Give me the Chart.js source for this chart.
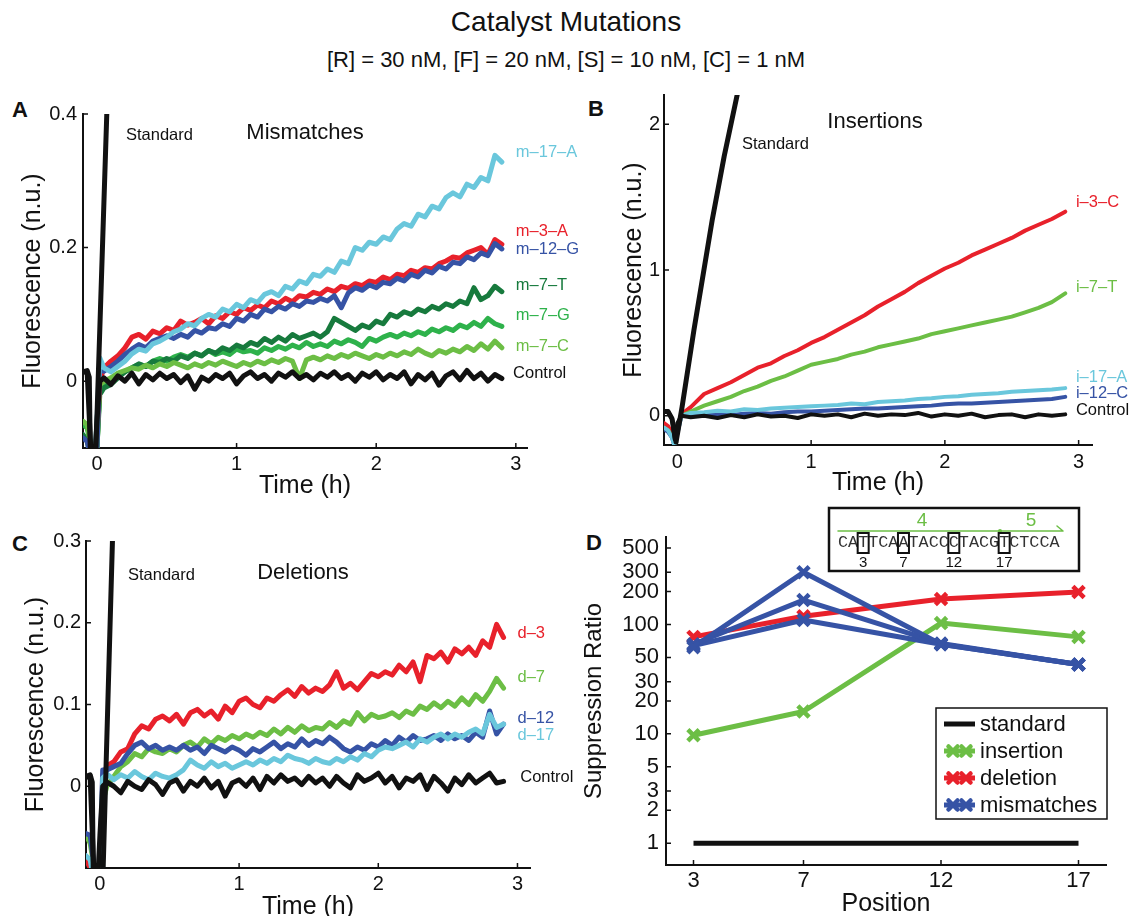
<!DOCTYPE html>
<html>
<head>
<meta charset="utf-8">
<script src="https://cdn.jsdelivr.net/npm/chart.js@4.4.1/dist/chart.umd.min.js"></script>
<style>
  html, body { margin: 0; padding: 0; background: #fff; overflow: hidden; }
  body { width: 1131px; height: 916px; position: relative; font-family: "Liberation Sans", Arial, Helvetica, sans-serif; color: #111; }
  canvas { position: absolute; left: 0; top: 0; }
  .t { position: absolute; white-space: nowrap; transform: translate(-50%, -50%); }
  .panel { position: absolute; font-weight: bold; font-size: 22px; transform: translate(-50%, -50%); }
</style>
</head>
<body>
<div class="t" style="left:566px;top:22px;font-size:28px">Catalyst Mutations</div>
<div class="t" style="left:566px;top:60px;font-size:22px">[R] = 30 nM, [F] = 20 nM, [S] = 10 nM, [C] = 1 nM</div>
<div class="panel" style="left:20px;top:110px">A</div>
<div class="panel" style="left:596px;top:109px">B</div>
<div class="panel" style="left:20px;top:544px">C</div>
<div class="panel" style="left:594px;top:543px">D</div>

<canvas id="chartA" width="1131" height="930"></canvas>
<canvas id="chartB" width="1131" height="930"></canvas>
<canvas id="chartC" width="1131" height="930"></canvas>
<canvas id="chartD" width="1131" height="930"></canvas>

<script>
// ---- time grids (hours) ----
const hoursAC = [
  -0.1, -0.07, -0.04, -0.02, 0, 0.02, 0.05,
  0.1, 0.15, 0.2, 0.25, 0.3, 0.35, 0.4, 0.45, 0.5, 0.55,
  0.6, 0.65, 0.7, 0.75, 0.8, 0.85, 0.9, 0.95, 1.0, 1.05,
  1.1, 1.15, 1.2, 1.25, 1.3, 1.35, 1.4, 1.45, 1.5, 1.55,
  1.6, 1.65, 1.7, 1.75, 1.8, 1.85, 1.9, 1.95, 2.0, 2.05,
  2.1, 2.15, 2.2, 2.25, 2.3, 2.35, 2.4, 2.45, 2.5, 2.55,
  2.6, 2.65, 2.7, 2.75, 2.8, 2.85, 2.9
];
const hoursB = [
  -0.1, -0.07, -0.04, -0.02, 0, 0.03,
  0.1, 0.2, 0.3, 0.4, 0.5, 0.6, 0.7, 0.8, 0.9, 1.0,
  1.1, 1.2, 1.3, 1.4, 1.5, 1.6, 1.7, 1.8, 1.9, 2.0,
  2.1, 2.2, 2.3, 2.4, 2.5, 2.6, 2.7, 2.8, 2.9
];

// ---- A: mismatches ----
const stdHoursA = [-0.1, -0.07, -0.055, -0.045, -0.015, 0.075];
const stdA = [0.014, 0.016, 0.006, -0.15, -0.15, 0.43];
const mis17A = [
  -0.12, -0.12, -0.13, -0.13, -0.06, 0.035, 0.02,
  0.014, 0.022, 0.030, 0.041, 0.048, 0.045, 0.056, 0.060, 0.066, 0.074,
  0.078, 0.086, 0.083, 0.094, 0.100, 0.096, 0.108, 0.104, 0.115, 0.110,
  0.122, 0.118, 0.130, 0.134, 0.128, 0.142, 0.138, 0.150, 0.146, 0.160,
  0.157, 0.168, 0.163, 0.180, 0.176, 0.200, 0.196, 0.208, 0.205, 0.216,
  0.212, 0.228, 0.236, 0.232, 0.250, 0.246, 0.262, 0.258, 0.275, 0.282,
  0.276, 0.295, 0.290, 0.305, 0.300, 0.338, 0.328
];
const mis3A = [
  -0.11, -0.12, -0.13, -0.13, -0.08, 0.0, 0.02,
  0.030, 0.038, 0.050, 0.066, 0.070, 0.063, 0.075, 0.071, 0.080, 0.076,
  0.090, 0.084, 0.088, 0.094, 0.086, 0.098, 0.094, 0.104, 0.100, 0.110,
  0.106, 0.114, 0.110, 0.120, 0.116, 0.124, 0.119, 0.128, 0.126, 0.133,
  0.130, 0.138, 0.134, 0.142, 0.139, 0.146, 0.143, 0.150, 0.148, 0.156,
  0.152, 0.160, 0.158, 0.166, 0.163, 0.170, 0.168, 0.176, 0.180, 0.186,
  0.184, 0.192, 0.196, 0.200, 0.190, 0.212, 0.205
];
const mis12G = [
  -0.085, -0.09, -0.12, -0.13, -0.1, 0.02, 0.015,
  0.022, 0.030, 0.040, 0.048, 0.055, 0.050, 0.060, 0.064, 0.068, 0.064,
  0.070, 0.066, 0.076, 0.072, 0.080, 0.078, 0.086, 0.082, 0.094, 0.090,
  0.100, 0.096, 0.108, 0.104, 0.112, 0.108, 0.116, 0.112, 0.120, 0.118,
  0.124, 0.120, 0.128, 0.110, 0.132, 0.140, 0.136, 0.144, 0.140, 0.148,
  0.146, 0.154, 0.150, 0.160, 0.156, 0.166, 0.162, 0.172, 0.168, 0.178,
  0.176, 0.186, 0.182, 0.192, 0.188, 0.206, 0.198
];
const mis7T = [
  -0.08, -0.09, -0.12, -0.13, -0.1, -0.02, -0.01,
  -0.005, 0.005, 0.014, 0.020, 0.026, 0.022, 0.030, 0.028, 0.034, 0.030,
  0.038, 0.034, 0.042, 0.038, 0.046, 0.042, 0.050, 0.046, 0.054, 0.050,
  0.058, 0.054, 0.064, 0.058, 0.066, 0.060, 0.070, 0.064, 0.068, 0.072,
  0.066, 0.074, 0.094, 0.088, 0.082, 0.076, 0.084, 0.080, 0.090, 0.086,
  0.100, 0.096, 0.104, 0.100, 0.108, 0.104, 0.112, 0.108, 0.116, 0.112,
  0.120, 0.116, 0.140, 0.122, 0.128, 0.142, 0.134
];
const mis7G = [
  -0.065, -0.07, -0.1, -0.12, -0.1, -0.01, -0.005,
  0.000, 0.008, 0.014, 0.020, 0.025, 0.022, 0.030, 0.034, 0.030, 0.036,
  0.040, 0.036, 0.042, 0.038, 0.046, 0.040, 0.044, 0.040, 0.048, 0.044,
  0.046, 0.042, 0.050, 0.046, 0.052, 0.048, 0.054, 0.050, 0.058, 0.052,
  0.056, 0.052, 0.060, 0.056, 0.062, 0.058, 0.052, 0.064, 0.060, 0.066,
  0.070, 0.066, 0.072, 0.068, 0.074, 0.070, 0.078, 0.074, 0.080, 0.076,
  0.084, 0.080, 0.088, 0.082, 0.094, 0.086, 0.082
];
const mis7C = [
  -0.06, -0.065, -0.1, -0.12, -0.1, -0.005, 0.0,
  0.005, 0.012, 0.016, 0.020, 0.018, 0.024, 0.020, 0.026, 0.022, 0.028,
  0.024, 0.020, 0.026, 0.022, 0.028, 0.024, 0.030, 0.026, 0.022, 0.028,
  0.024, 0.030, 0.026, 0.032, 0.028, 0.034, 0.030, 0.004, 0.032, 0.036,
  0.032, 0.038, 0.034, 0.040, 0.036, 0.042, 0.038, 0.034, 0.040, 0.036,
  0.042, 0.038, 0.044, 0.040, 0.048, 0.042, 0.038, 0.046, 0.042, 0.048,
  0.044, 0.052, 0.046, 0.056, 0.048, 0.060, 0.050
];
const ctrlA = [
  0.015, 0.012, -0.12, -0.13, -0.06, 0.0, 0.005,
  -0.005, 0.008, 0.000, 0.012, -0.004, 0.010, 0.002, 0.012, 0.004, 0.010,
  -0.002, 0.008, -0.012, 0.006, 0.000, 0.010, 0.004, 0.012, -0.004, 0.008,
  0.014, 0.004, 0.010, 0.000, 0.012, 0.006, 0.014, 0.004, 0.010, 0.002,
  0.012, 0.006, 0.014, 0.004, 0.010, 0.000, 0.012, 0.006, 0.014, 0.002,
  0.010, 0.004, 0.014, -0.004, 0.010, 0.002, 0.012, -0.006, 0.008, 0.014,
  0.002, 0.016, 0.004, 0.012, 0.000, 0.010, 0.004
];
const tagNamesA = ['m–17–A', 'm–3–A', 'm–12–G', 'm–7–T', 'm–7–G', 'm–7–C', 'Control'];
const tagLevelsA = [0.342, 0.224, 0.197, 0.143, 0.098, 0.052, 0.011];

// ---- B: insertions ----
const stdHoursB = [-0.1, -0.07, -0.04, -0.01, 0.035, 0.124, 0.26, 0.35, 0.47];
const stdB = [0.03, 0.03, -0.02, -0.18, 0.06, 0.59, 1.34, 1.78, 2.3];
const ins3C = [
  -0.05, -0.07, -0.12, -0.2, -0.1, 0.01,
  0.06, 0.15, 0.19, 0.23, 0.28, 0.33, 0.36, 0.41, 0.45, 0.50,
  0.54, 0.59, 0.64, 0.69, 0.75, 0.80, 0.85, 0.91, 0.96, 1.01,
  1.05, 1.10, 1.14, 1.18, 1.22, 1.27, 1.31, 1.35, 1.40
];
const ins7T = [
  -0.08, -0.1, -0.14, -0.2, -0.1, 0.0,
  0.03, 0.07, 0.10, 0.13, 0.17, 0.20, 0.24, 0.27, 0.31, 0.35,
  0.37, 0.39, 0.42, 0.44, 0.47, 0.49, 0.51, 0.53, 0.56, 0.58,
  0.60, 0.62, 0.64, 0.66, 0.68, 0.71, 0.74, 0.78, 0.84
];
const ins17A = [
  -0.08, -0.1, -0.15, -0.21, -0.12, 0.0,
  0.02, 0.025, 0.035, 0.03, 0.045, 0.04, 0.05, 0.055, 0.06, 0.065,
  0.07, 0.075, 0.085, 0.08, 0.095, 0.1, 0.105, 0.115, 0.12, 0.13,
  0.135, 0.145, 0.15, 0.155, 0.165, 0.17, 0.175, 0.18, 0.19
];
const ins12C = [
  -0.09, -0.11, -0.15, -0.21, -0.12, 0.0,
  0.0, 0.005, 0.01, 0.005, 0.015, 0.02, 0.015, 0.025, 0.03, 0.03,
  0.035, 0.04, 0.045, 0.05, 0.05, 0.055, 0.06, 0.065, 0.07, 0.08,
  0.085, 0.085, 0.09, 0.095, 0.1, 0.105, 0.11, 0.115, 0.13
];
const ctrlB = [
  0.03, 0.03, -0.02, -0.16, -0.05, 0.0,
  -0.01, 0.0, -0.015, 0.005, -0.01, 0.01, -0.005, 0.0, -0.015, 0.01,
  0.0, 0.01, -0.01, 0.015, 0.0, 0.01, 0.005, 0.02, -0.005, 0.01,
  0.0, 0.015, -0.01, 0.005, 0.01, -0.01, 0.01, 0.0, 0.01
];
const tagNamesB = ['i–3–C', 'i–7–T', 'i–17–A', 'i–12–C', 'Control'];
const tagLevelsB = [1.46, 0.878, 0.26, 0.151, 0.034];

// ---- C: deletions ----
const stdHoursC = [-0.1, -0.07, -0.055, -0.045, 0.02, 0.095];
const stdC = [0.012, 0.014, 0.005, -0.15, -0.12, 0.33];
const del3 = [
  -0.09, -0.1, -0.13, -0.13, -0.1, 0.01, 0.025,
  0.030, 0.042, 0.046, 0.064, 0.074, 0.070, 0.082, 0.086, 0.080, 0.088,
  0.076, 0.090, 0.094, 0.086, 0.092, 0.082, 0.098, 0.090, 0.104, 0.108,
  0.100, 0.096, 0.108, 0.104, 0.112, 0.118, 0.110, 0.122, 0.114, 0.120,
  0.116, 0.124, 0.140, 0.120, 0.126, 0.118, 0.128, 0.138, 0.134, 0.140,
  0.136, 0.148, 0.140, 0.152, 0.128, 0.160, 0.156, 0.164, 0.152, 0.168,
  0.162, 0.170, 0.160, 0.178, 0.170, 0.198, 0.182
];
const del7 = [
  -0.06, -0.07, -0.1, -0.12, -0.1, -0.02, 0.0,
  0.012, 0.024, 0.030, 0.040, 0.036, 0.046, 0.042, 0.040, 0.046, 0.042,
  0.050, 0.054, 0.048, 0.058, 0.052, 0.060, 0.056, 0.062, 0.058, 0.064,
  0.060, 0.066, 0.062, 0.070, 0.064, 0.072, 0.066, 0.074, 0.068, 0.072,
  0.070, 0.078, 0.072, 0.080, 0.076, 0.090, 0.080, 0.088, 0.084, 0.086,
  0.090, 0.084, 0.092, 0.088, 0.098, 0.094, 0.102, 0.096, 0.104, 0.098,
  0.108, 0.100, 0.112, 0.104, 0.116, 0.132, 0.120
];
const del12 = [
  -0.058, -0.06, -0.1, -0.12, -0.1, 0.02, 0.02,
  0.024, 0.028, 0.040, 0.050, 0.054, 0.046, 0.050, 0.044, 0.048, 0.044,
  0.050, 0.044, 0.048, 0.040, 0.050, 0.046, 0.042, 0.048, 0.044, 0.038,
  0.046, 0.042, 0.048, 0.054, 0.046, 0.052, 0.048, 0.058, 0.050, 0.056,
  0.052, 0.060, 0.054, 0.046, 0.042, 0.048, 0.044, 0.052, 0.048, 0.056,
  0.050, 0.060, 0.054, 0.062, 0.056, 0.058, 0.062, 0.056, 0.064, 0.058,
  0.062, 0.056, 0.066, 0.060, 0.092, 0.064, 0.076
];
const del17 = [
  -0.085, -0.09, -0.12, -0.13, -0.1, 0.01, 0.015,
  0.008, 0.014, 0.010, 0.018, 0.012, 0.008, 0.016, 0.012, 0.010, 0.014,
  0.020, 0.032, 0.026, 0.022, 0.030, 0.024, 0.028, 0.022, 0.026, 0.030,
  0.026, 0.032, 0.028, 0.034, 0.030, 0.038, 0.034, 0.032, 0.028, 0.034,
  0.030, 0.028, 0.034, 0.030, 0.036, 0.032, 0.040, 0.036, 0.044, 0.048,
  0.046, 0.050, 0.054, 0.048, 0.058, 0.054, 0.060, 0.064, 0.058, 0.064,
  0.060, 0.066, 0.070, 0.064, 0.088, 0.072, 0.076
];
const ctrlC = [
  0.012, 0.01, -0.12, -0.13, -0.06, 0.0, 0.005,
  0.000, -0.008, 0.006, 0.000, -0.004, 0.008, 0.002, -0.010, 0.004, 0.008,
  -0.006, 0.006, 0.000, 0.010, -0.002, 0.006, -0.012, 0.004, 0.008, 0.000,
  0.010, -0.004, 0.012, 0.004, 0.014, 0.006, 0.010, 0.002, 0.012, 0.004,
  0.010, 0.000, 0.012, 0.004, -0.002, 0.014, 0.006, 0.010, 0.016, 0.004,
  0.012, -0.002, 0.010, 0.006, 0.014, -0.004, 0.012, 0.004, -0.006, 0.010,
  0.002, 0.014, 0.004, 0.010, 0.016, 0.004, 0.006
];
const tagNamesC = ['d–3', 'd–7', 'd–12', 'd–17', 'Control'];
const tagLevelsC = [0.187, 0.133, 0.083, 0.062, 0.011];

// ---- D: suppression ratio ----
const positions = [3, 7, 12, 17];
const standardRatio = [1, 1, 1, 1];
const insertionRatio = [9.7, 16, 103, 77];
const deletionRatio = [77, 119, 171, 198];
const mismatchRatio1 = [62, 300, 66, 43];
const mismatchRatio2 = [66, 167, 67, 43];
const mismatchRatio3 = [64, 110, 66, 43];

// ---- ticks ----
const hourTicks = [0, 1, 2, 3];
const hourTickLabels = ['0', '1', '2', '3'];
const yTicksA = [0, 0.2, 0.4];
const yTickLabelsA = ['0', '0.2', '0.4'];
const yTicksB = [0, 1, 2];
const yTickLabelsB = ['0', '1', '2'];
const yTicksC = [0, 0.1, 0.2, 0.3];
const yTickLabelsC = ['0', '0.1', '0.2', '0.3'];
const posTicks = [3, 7, 12, 17];
const posTickLabels = ['3', '7', '12', '17'];
const ratioTicks = [1, 2, 3, 5, 10, 20, 30, 50, 100, 200, 300, 500];
const ratioTickLabels = ['1', '2', '3', '5', '10', '20', '30', '50', '100', '200', '300', '500'];

// ---- styling ----
const FONT = '"Liberation Sans", Arial, Helvetica, sans-serif';
const ink = '#111111';
const red = '#e8212b';
const blue = '#3653a5';
const cyan = '#6ac7dc';
const darkGreen = '#177a3d';
const green = '#2eb24b';
const lightGreen = '#6cbe45';

Chart.defaults.font.family = FONT;
Chart.defaults.color = ink;

function pts(t, v) {
  return t.map((x, i) => ({ x: x, y: v[i] }));
}

// MATLAB style tick marks pointing into the plot
const innerTicks = {
  id: 'innerTicks',
  afterDraw(chart) {
    const { ctx, chartArea: a, scales: { x, y } } = chart;
    ctx.save();
    ctx.strokeStyle = ink;
    ctx.lineWidth = 1.5;
    ctx.beginPath();
    x.ticks.forEach(t => { const p = x.getPixelForValue(t.value); ctx.moveTo(p, a.bottom); ctx.lineTo(p, a.bottom - 5); });
    y.ticks.forEach(t => { const p = y.getPixelForValue(t.value); ctx.moveTo(a.left, p); ctx.lineTo(a.left + 5, p); });
    ctx.stroke();
    ctx.restore();
  }
};

// labels at the right end of each curve
const endTags = {
  id: 'endTags',
  afterDraw(chart) {
    const { ctx, scales: { x, y } } = chart;
    ctx.save();
    ctx.font = '16.5px ' + FONT;
    ctx.textBaseline = 'middle';
    ctx.textAlign = 'left';
    chart.data.datasets.forEach(ds => {
      if (!ds.tag) return;
      ctx.fillStyle = ds.borderColor;
      ctx.fillText(ds.tag, x.getPixelForValue(ds.tagAt[0]), y.getPixelForValue(ds.tagAt[1]));
    });
    ctx.restore();
  }
};

function notes(items) {
  return {
    id: 'notes',
    afterDraw(chart) {
      const ctx = chart.ctx;
      ctx.save();
      ctx.textBaseline = 'middle';
      items.forEach(n => {
        ctx.font = n.size + 'px ' + FONT;
        ctx.fillStyle = ink;
        ctx.textAlign = n.align;
        ctx.fillText(n.text, n.x, n.y);
      });
      ctx.restore();
    }
  };
}

function curve(t, v, color, width, tag, tagAt) {
  return { data: pts(t, v), borderColor: color, borderWidth: width, tag: tag, tagAt: tagAt, clip: 0 };
}

function timeChart(id, box, yRange, yTicks, yLabels, sets, extra) {
  return new Chart(document.getElementById(id), {
    type: 'line',
    data: { datasets: sets },
    options: {
      responsive: false,
      devicePixelRatio: 1,
      animation: false,
      events: [],
      layout: { padding: { left: box.pl, right: box.pr, top: box.pt, bottom: box.pb } },
      plugins: { legend: { display: false }, tooltip: { enabled: false } },
      elements: {
        point: { radius: 0 },
        line: { tension: 0, borderJoinStyle: 'round', borderCapStyle: 'round' }
      },
      scales: {
        x: {
          type: 'linear', bounds: 'data', min: box.xMin, max: box.xMax,
          grid: { display: false, drawTicks: false },
          border: { color: ink, width: 2 },
          afterFit: s => { s.height = box.xh; },
          afterBuildTicks: s => { s.ticks = hourTicks.map(v => ({ value: v })); },
          ticks: { padding: box.xp, autoSkip: false, maxRotation: 0, font: { size: 20 }, color: ink,
                   callback: (v, i) => hourTickLabels[i] },
          title: { display: true, text: 'Time (h)', font: { size: 25, lineHeight: 1 }, padding: 0, color: ink }
        },
        y: {
          type: 'linear', bounds: 'data', min: yRange[0], max: yRange[1],
          grid: { display: false, drawTicks: false },
          border: { color: ink, width: 2 },
          afterFit: s => { s.width = box.yw; },
          afterBuildTicks: s => { s.ticks = yTicks.map(v => ({ value: v })); },
          ticks: { padding: box.yp, autoSkip: false, font: { size: 20 }, color: ink,
                   callback: (v, i) => yLabels[i] },
          title: { display: true, text: 'Fluorescence (n.u.)', font: { size: 25, lineHeight: 1 }, padding: 0, color: ink }
        }
      }
    },
    plugins: [innerTicks, endTags, extra]
  });
}

// Panel A
timeChart('chartA',
  { pl: 20.5, pr: 604, pt: 114, pb: 431.5, yw: 62.5, xh: 50.5, xp: 4, yp: 6, xMin: -0.1, xMax: 3.08 },
  [-0.1, 0.4], yTicksA, yTickLabelsA,
  [
    curve(stdHoursA, stdA, ink, 5),
    curve(hoursAC, ctrlA, ink, 5, tagNamesA[6], [2.98, tagLevelsA[6]]),
    curve(hoursAC, mis17A, cyan, 5, tagNamesA[0], [3.0, tagLevelsA[0]]),
    curve(hoursAC, mis12G, blue, 5, tagNamesA[2], [3.0, tagLevelsA[2]]),
    curve(hoursAC, mis3A, red, 5, tagNamesA[1], [3.0, tagLevelsA[1]]),
    curve(hoursAC, mis7C, lightGreen, 5, tagNamesA[5], [3.0, tagLevelsA[5]]),
    curve(hoursAC, mis7T, darkGreen, 5, tagNamesA[3], [3.0, tagLevelsA[3]]),
    curve(hoursAC, mis7G, green, 5, tagNamesA[4], [3.0, tagLevelsA[4]])
  ],
  notes([
    { text: 'Standard', x: 126, y: 135, size: 16.5, align: 'left' },
    { text: 'Mismatches', x: 305, y: 133, size: 22, align: 'center' }
  ])
);

// Panel B
timeChart('chartB',
  { pl: 621.5, pr: 39, pt: 95, pb: 434.5, yw: 42.5, xh: 50.5, xp: 5.5, yp: 4, xMin: -0.1, xMax: 3.1 },
  [-0.2, 2.2], yTicksB, yTickLabelsB,
  [
    curve(stdHoursB, stdB, ink, 5),
    curve(hoursB, ctrlB, ink, 4, tagNamesB[4], [2.98, tagLevelsB[4]]),
    curve(hoursB, ins17A, cyan, 4, tagNamesB[2], [2.98, tagLevelsB[2]]),
    curve(hoursB, ins12C, blue, 4, tagNamesB[3], [2.98, tagLevelsB[3]]),
    curve(hoursB, ins7T, lightGreen, 4, tagNamesB[1], [2.98, tagLevelsB[1]]),
    curve(hoursB, ins3C, red, 4, tagNamesB[0], [2.98, tagLevelsB[0]])
  ],
  notes([
    { text: 'Standard', x: 742, y: 144, size: 16.5, align: 'left' },
    { text: 'Insertions', x: 875, y: 122, size: 22, align: 'center' }
  ])
);

// Panel C
timeChart('chartC',
  { pl: 23.5, pr: 601, pt: 541, pb: 10.5, yw: 62.5, xh: 51.5, xp: 4, yp: 5, xMin: -0.1, xMax: 3.09 },
  [-0.1, 0.3], yTicksC, yTickLabelsC,
  [
    curve(stdHoursC, stdC, ink, 5),
    curve(hoursAC, ctrlC, ink, 5, tagNamesC[4], [3.02, tagLevelsC[4]]),
    curve(hoursAC, del17, cyan, 5, tagNamesC[3], [3.0, tagLevelsC[3]]),
    curve(hoursAC, del12, blue, 5, tagNamesC[2], [3.0, tagLevelsC[2]]),
    curve(hoursAC, del7, lightGreen, 5, tagNamesC[1], [3.0, tagLevelsC[1]]),
    curve(hoursAC, del3, red, 5, tagNamesC[0], [3.0, tagLevelsC[0]])
  ],
  notes([
    { text: 'Standard', x: 128, y: 575, size: 16.5, align: 'left' },
    { text: 'Deletions', x: 303, y: 573, size: 22, align: 'center' }
  ])
);

// Panel D: legend box and sequence inset
const legendRows = [
  { text: 'standard', color: ink, marker: false },
  { text: 'insertion', color: lightGreen, marker: true },
  { text: 'deletion', color: red, marker: true },
  { text: 'mismatches', color: blue, marker: true }
];
const sequence = 'CATTCAATACCCTACGTCTCCA';
const boxedIndex = [2, 6, 11, 16];
const boxedLabels = ['3', '7', '12', '17'];

function drawCross(ctx, cx, cy, r, color) {
  ctx.strokeStyle = color;
  ctx.lineWidth = 4.5;
  ctx.lineCap = 'round';
  ctx.beginPath();
  ctx.moveTo(cx - r, cy - r); ctx.lineTo(cx + r, cy + r);
  ctx.moveTo(cx - r, cy + r); ctx.lineTo(cx + r, cy - r);
  ctx.stroke();
}

const panelDExtras = {
  id: 'panelDExtras',
  afterDraw(chart) {
    const ctx = chart.ctx;
    ctx.save();
    // legend
    ctx.fillStyle = '#fff';
    ctx.fillRect(936, 708, 171, 111);
    ctx.strokeStyle = ink;
    ctx.lineWidth = 1.5;
    ctx.strokeRect(936, 708, 171, 111);
    legendRows.forEach((row, i) => {
      const y = 724 + i * 27;
      ctx.strokeStyle = row.color;
      ctx.lineWidth = 5;
      ctx.lineCap = 'butt';
      ctx.beginPath(); ctx.moveTo(944, y); ctx.lineTo(975, y); ctx.stroke();
      if (row.marker) { drawCross(ctx, 953, y, 4.5, row.color); drawCross(ctx, 966, y, 4.5, row.color); }
      ctx.fillStyle = ink;
      ctx.font = '22px ' + FONT;
      ctx.textAlign = 'left';
      ctx.textBaseline = 'middle';
      ctx.fillText(row.text, 980, y + 1);
    });
    // sequence inset
    ctx.fillStyle = '#fff';
    ctx.fillRect(829, 508, 250, 63);
    ctx.strokeStyle = ink;
    ctx.lineWidth = 2.5;
    ctx.strokeRect(829, 508, 250, 63);
    ctx.strokeStyle = lightGreen;
    ctx.lineWidth = 1.5;
    ctx.beginPath();
    ctx.moveTo(838, 531); ctx.lineTo(1063, 531);
    ctx.moveTo(1057, 526); ctx.lineTo(1063, 531);
    ctx.stroke();
    ctx.fillStyle = lightGreen;
    ctx.beginPath(); ctx.arc(1000, 531, 2, 0, Math.PI * 2); ctx.fill();
    ctx.font = '19px ' + FONT;
    ctx.textAlign = 'center';
    ctx.textBaseline = 'middle';
    ctx.fillText('4', 922, 521);
    ctx.fillText('5', 1031, 521);
    ctx.font = '16.8px "Liberation Mono", "Courier New", monospace';
    ctx.fillStyle = '#333';
    ctx.textAlign = 'left';
    ctx.fillText(sequence, 838, 543);
    const cw = ctx.measureText('C').width;
    ctx.strokeStyle = ink;
    ctx.lineWidth = 2;
    ctx.font = '15px ' + FONT;
    ctx.fillStyle = ink;
    ctx.textAlign = 'center';
    boxedIndex.forEach((k, i) => {
      const cx = 838 + (k + 0.5) * cw;
      ctx.strokeRect(cx - 5.5, 533, 11, 20);
      ctx.fillText(boxedLabels[i], cx, 563);
    });
    ctx.restore();
  }
};

function ratioSet(values, color, marker) {
  return {
    data: pts(positions, values), borderColor: color, backgroundColor: color, borderWidth: 5,
    pointStyle: 'crossRot', pointRadius: marker ? 8 : 0, pointBorderWidth: 4.5,
    pointBorderColor: color, clip: false
  };
}

new Chart(document.getElementById('chartD'), {
  type: 'line',
  data: {
    datasets: [
      ratioSet(mismatchRatio1, blue, true),
      ratioSet(mismatchRatio2, blue, true),
      ratioSet(mismatchRatio3, blue, true),
      ratioSet(deletionRatio, red, true),
      ratioSet(insertionRatio, lightGreen, true),
      ratioSet(standardRatio, ink, false)
    ]
  },
  options: {
    responsive: false,
    devicePixelRatio: 1,
    animation: false,
    events: [],
    layout: { padding: { left: 582, right: 25, top: 537, bottom: 13 } },
    plugins: { legend: { display: false }, tooltip: { enabled: false } },
    elements: { line: { tension: 0, borderJoinStyle: 'round' } },
    scales: {
      x: {
        type: 'linear', bounds: 'data', min: 2, max: 18,
        grid: { display: false, drawTicks: false },
        border: { color: ink, width: 2 },
        afterFit: s => { s.height = 52; },
        afterBuildTicks: s => { s.ticks = posTicks.map(v => ({ value: v })); },
        ticks: { padding: 2.5, autoSkip: false, maxRotation: 0, font: { size: 22 }, color: ink,
                 callback: (v, i) => posTickLabels[i] },
        title: { display: true, text: 'Position', font: { size: 25, lineHeight: 1 }, padding: 0, color: ink }
      },
      y: {
        type: 'logarithmic', bounds: 'data', min: 0.631, max: 631,
        grid: { display: false, drawTicks: false },
        border: { color: ink, width: 2 },
        afterFit: s => { s.width = 84; },
        afterBuildTicks: s => { s.ticks = ratioTicks.map(v => ({ value: v })); },
        ticks: { padding: 7, autoSkip: false, font: { size: 22 }, color: ink,
                 callback: (v, i) => ratioTickLabels[i] },
        title: { display: true, text: 'Suppression Ratio', font: { size: 24, lineHeight: 1 }, padding: 0, color: ink }
      }
    }
  },
  plugins: [innerTicks, panelDExtras]
});
</script>
</body>
</html>
